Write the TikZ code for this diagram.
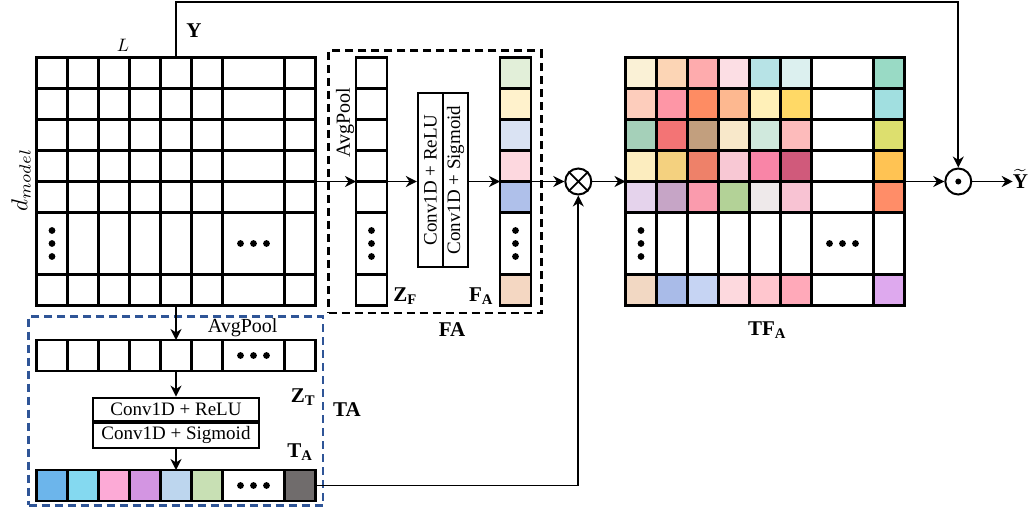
\documentclass[tikz,border=0pt]{standalone}
\usepackage{fontspec}
\setmainfont{Liberation Serif}
\usetikzlibrary{arrows.meta}
\tikzset{
  gl/.style={line width=2.2pt},
  arr/.style={line width=1.9pt,-{Stealth[length=11pt,width=11pt,inset=3.5pt]}},
  blk/.style={draw=none,inner sep=0pt,outer sep=0pt},
  lbl/.style={font=\fontsize{21}{24}\selectfont\bfseries,inner sep=0pt},
  conv/.style={draw,line width=2.2pt,inner sep=0pt,font=\fontsize{19}{22}\selectfont},
  plain/.style={font=\fontsize{20}{22}\selectfont,inner sep=0pt},
}
\newcommand\gridXY[2]{%
  \foreach \u in {31,62,93,124,155,186,248} \draw[gl] (#1+\u,#2) -- (#1+\u,#2+248);
  \foreach \v in {31,62,93,124,155,217} \draw[gl] (#1,#2+\v) -- (#1+279,#2+\v);
  \draw[gl] (#1,#2) rectangle (#1+279,#2+248);}
\newcommand\colgrid[2]{%
  \foreach \v in {31,62,93,124,155,217} \draw[gl] (#1,#2+\v) -- (#1+31,#2+\v);
  \draw[gl] (#1,#2) rectangle (#1+31,#2+248);}
\newcommand\rowgrid[2]{%
  \foreach \u in {31,62,93,124,155,186,248} \draw[gl] (#1+\u,#2) -- (#1+\u,#2+31);
  \draw[gl] (#1,#2) rectangle (#1+279,#2+31);}
\newcommand\vdotsat[2]{\foreach \d in {-13,0,13} \fill (#1,#2+\d) circle (3.4pt);}
\newcommand\hdotsat[2]{\foreach \d in {-13,0,13} \fill (#1+\d,#2) circle (3.4pt);}
\begin{document}
\begin{tikzpicture}[x=1pt,y=-1pt]
\useasboundingbox (0,0) rectangle (1030,511);
% ---------- fills ----------
% TF grid
\foreach \rr/\lst in {
  1/{FAF1D6,FCD5B5,FEABAD,FCDEE4,B7E3E6,DCF0EF,FFFFFF,99DAC5},
  2/{FDCDBC,FE96A6,FE8C63,FDB890,FFF0B8,FFD966,FFFFFF,A1DFE0},
  3/{A5D0B9,F37475,C29F7E,F8E8CA,D0E9DD,FDBBBB,FFFFFF,DDDF6E},
  4/{FCEDBF,F4D17F,EE8169,F8C8D4,F985A7,D05A7B,FFFFFF,FFC353},
  5/{E5D3EC,C6A5C6,FA9BAD,B3D297,EEE9EA,F8C3D3,FFFFFF,FF8D68},
  7/{F2D8C3,A9BBE8,C6D4F3,FDD9DE,FFC6CE,FFA9B9,FFFFFF,DEA9EE}} {
  \foreach \cc [count=\ci] in \lst {
    \pgfmathsetmacro\xs{\ci<8 ? 31*(\ci-1) : 248}
    \pgfmathsetmacro\cellw{\ci==7 ? 62 : 31}
    \pgfmathsetmacro\ys{\rr<7 ? 31*(\rr-1) : 217}
    \edef\tmpdef{\noexpand\definecolor{tmpc}{HTML}{\cc}}\tmpdef
    \fill[tmpc] (625.5+\xs,57.5+\ys) rectangle ++(\cellw,31);
  }
}
% FA column
\foreach \cc [count=\ri] in {E2EFD9,FFF2CC,DAE3F3,FDD8DF,AFC0EA,FFFFFF,F4D7C2} {
  \pgfmathsetmacro\ys{\ri<7 ? 31*(\ri-1) : 217}
  \pgfmathsetmacro\cellh{\ri==6 ? 62 : 31}
  \edef\tmpdef{\noexpand\definecolor{tmpc}{HTML}{\cc}}\tmpdef
  \fill[tmpc] (500,57.5+\ys) rectangle ++(31,\cellh);
}
% TA row
\foreach \cc [count=\ci] in {6CB5EB,84D9F0,FCAAD6,D395E2,BDD6EE,C8E0B4,FFFFFF,706C6C} {
  \pgfmathsetmacro\xs{\ci<8 ? 31*(\ci-1) : 248}
  \pgfmathsetmacro\cellw{\ci==7 ? 62 : 31}
  \edef\tmpdef{\noexpand\definecolor{tmpc}{HTML}{\cc}}\tmpdef
  \fill[tmpc] (36.5+\xs,470) rectangle ++(\cellw,31);
}
% ---------- named blocks ----------
\node[blk,minimum width=279pt,minimum height=248pt,anchor=north west] (X) at (36.5,57.5) {};
\node[blk,minimum width=31pt,minimum height=248pt,anchor=north west] (ZF) at (356,57.5) {};
\node[blk,minimum width=31pt,minimum height=248pt,anchor=north west] (FAc) at (500,57.5) {};
\node[blk,minimum width=279pt,minimum height=248pt,anchor=north west] (TF) at (625.5,57.5) {};
\node[blk,minimum width=279pt,minimum height=31pt,anchor=north west] (ZT) at (36.5,340) {};
\node[blk,minimum width=279pt,minimum height=31pt,anchor=north west] (TAr) at (36.5,470) {};
% ---------- grid lines ----------
\gridXY{36.5}{57.5}
\gridXY{625.5}{57.5}
\colgrid{356}{57.5}
\colgrid{500}{57.5}
\rowgrid{36.5}{340}
\rowgrid{36.5}{470}
% ---------- dots ----------
\vdotsat{52}{243.5}
\hdotsat{253.5}{243.5}
\vdotsat{371.5}{243.5}
\vdotsat{515.5}{243.5}
\vdotsat{641}{243.5}
\hdotsat{842.5}{243.5}
\hdotsat{253.5}{355.5}
\hdotsat{253.5}{485.5}
% ---------- dashed boxes ----------
\node[draw,dash pattern=on 8pt off 5pt,line width=2.6pt,minimum width=212.7pt,minimum height=262.4pt,anchor=north west,inner sep=0pt] (FAbox) at (327.3,49.3) {};
\definecolor{tabl}{HTML}{2F5597}
\node[draw=tabl,dash pattern=on 8pt off 5pt,line width=2.6pt,minimum width=294.4pt,minimum height=189pt,anchor=north west,inner sep=0pt] (TAbox) at (27.3,315) {};
% ---------- conv boxes ----------
\node[conv,minimum width=25pt,minimum height=174pt] (cr) at (430.5,180) {\rotatebox{90}{Conv1D + ReLU}};
\node[conv,minimum width=25pt,minimum height=174pt] (cs) at (455.5,180) {\rotatebox{90}{Conv1D + Sigmoid}};
\node[conv,minimum width=166.6pt,minimum height=23pt] (br) at (176,409.2) {Conv1D + ReLU};
\node[conv,minimum width=166.6pt,minimum height=25pt,anchor=north] (bs) at (br.south) {Conv1D + Sigmoid};
% ---------- operators ----------
\node[draw,circle,line width=2pt,minimum size=26pt,inner sep=0pt] (mul) at (578.3,181.5) {};
\draw[line width=1.8pt] (mul.north east) -- (mul.south west) (mul.north west) -- (mul.south east);
\node[draw,circle,line width=2pt,minimum size=26pt,inner sep=0pt] (had) at (958.3,181.5) {};
\fill (had.center) circle (3pt);
% ---------- labels ----------
\node[lbl] (ylab) at (194,31) {Y};
\node[inner sep=0pt] (Llab) at (123,45) {\scalebox{1.8}{$L$}};
\node[rotate=90,inner sep=0pt] (dlab) at (21,180) {\scalebox{2.3}{$d_{model}$}};
\node[plain,rotate=90] (ap1) at (345,123) {AvgPool};
\node[plain] (ap2) at (242.7,327.3) {AvgPool};
\node[lbl] (zf) at (405,296) {Z\textsubscript{F}};
\node[lbl] (fal) at (481,296) {F\textsubscript{A}};
\node[lbl] (falab) at (452,330) {FA};
\node[lbl] (tfa) at (767,330) {TF\textsubscript{A}};
\node[lbl] (zt) at (303,397) {Z\textsubscript{T}};
\node[lbl] (ta) at (347,410) {TA};
\node[lbl] (tal) at (300,452) {T\textsubscript{A}};
\node[inner sep=0pt] (yt) at (1020.5,179) {\scalebox{2.1}{$\widetilde{\mbox{\fontsize{10}{12}\selectfont\bfseries Y}}$}};
% ---------- connectors ----------
\coordinate (ytop) at (958.3,2);
\draw[arr] (X.north) |- (ytop) -- (had.north);
\draw[arr] (X.east) -- (ZF.west);
\draw[arr] (ZF.east) -- (ZF.east -| cr.west);
\draw[arr] (cs.east |- FAc.west) -- (FAc.west);
\draw[arr] (FAc.east) -- (mul.west);
\draw[arr] (mul.east) -- (TF.west);
\draw[arr] (TF.east) -- (had.west);
\draw[arr] (had.east) -- (had.east -| yt.west);
\draw[arr] (X.south) -- (ZT.north);
\draw[arr] (ZT.south) -- (br.north);
\draw[arr] (bs.south) -- (TAr.north);
\draw[arr] (TAr.east) -| (mul.south);
\end{tikzpicture}
\end{document}
